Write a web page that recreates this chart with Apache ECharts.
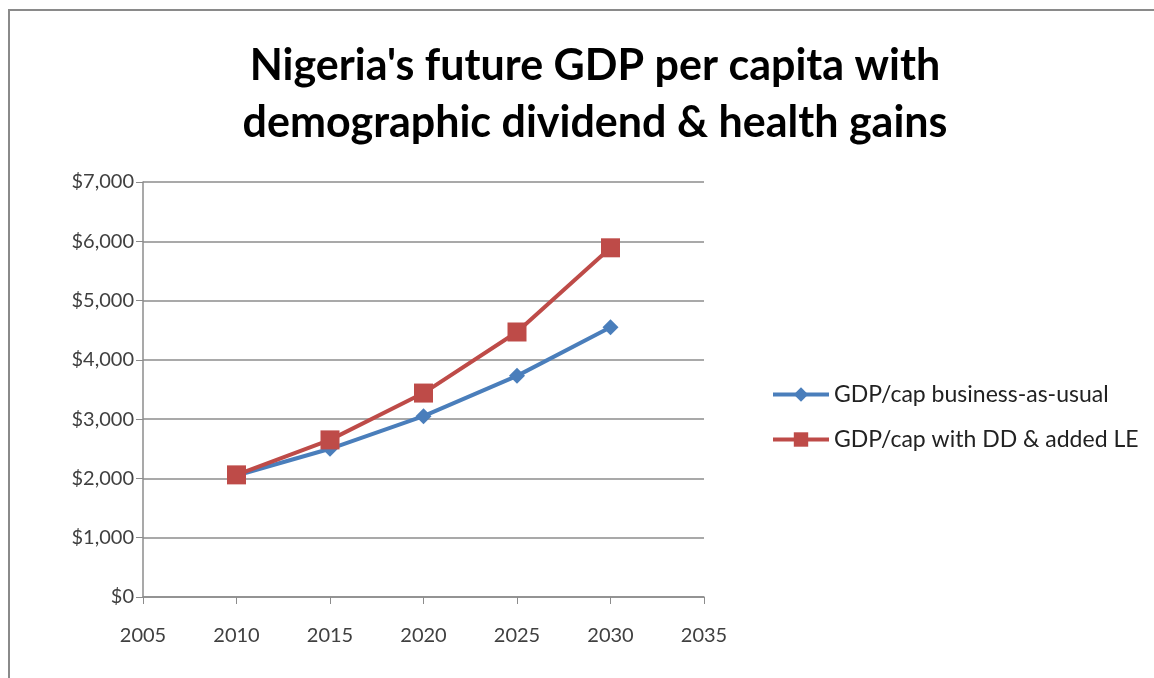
<!DOCTYPE html>
<html>
<head>
<meta charset="utf-8">
<script src="https://cdn.jsdelivr.net/npm/echarts@6/dist/echarts.min.js"></script>
<style>
html,body{margin:0;padding:0;background:#fff;}
#chart{width:1154px;height:678px;}
</style>
</head>
<body>
<div id="chart"></div>
<script>
const titleText = "Nigeria's future GDP per capita with\ndemographic dividend & health gains";
const years = [2010, 2015, 2020, 2025, 2030];
const seriesNames = ["GDP/cap business-as-usual", "GDP/cap with DD & added LE"];
const businessAsUsual = [2050, 2500, 3050, 3730, 4550];
const withDividend = [2060, 2650, 3440, 4470, 5890];

const chart = echarts.init(document.getElementById('chart'));
const font = 'Lato, "Open Sans", sans-serif';
chart.setOption({
  backgroundColor: '#fff',
  animation: false,
  title: {
    text: titleText,
    left: 590, top: 33, textAlign: 'center',
    textStyle: { fontFamily: font, fontWeight: 'bold', fontSize: 43, lineHeight: 57, color: '#000' }
  },
  graphic: [{
    type: 'polyline',
    shape: { points: [[9, 678], [9, 10], [1154, 10]] },
    style: { stroke: '#8a8a8a', lineWidth: 2, fill: null }
  }],
  legend: {
    orient: 'vertical', left: 766, top: 378,
    itemGap: 22, itemWidth: 56, itemHeight: 18,
    lineStyle: { width: 4 },
    textStyle: { fontFamily: font, fontSize: 23, color: '#222' },
    data: seriesNames
  },
  grid: { left: 143, right: 450, top: 182, bottom: 81 },
  xAxis: {
    type: 'value', min: 2005, max: 2035, interval: 5,
    axisLine: { show: true, lineStyle: { color: '#8c8c8c', width: 1.5 } },
    axisTick: { show: true, length: 7, lineStyle: { color: '#8c8c8c' } },
    splitLine: { show: false },
    axisLabel: { color: '#404040', fontFamily: font, fontSize: 20, margin: 29, formatter: v => String(v) }
  },
  yAxis: {
    type: 'value', min: 0, max: 7000, interval: 1000,
    axisLine: { show: true, lineStyle: { color: '#8c8c8c', width: 1.5 } },
    axisTick: { show: true, length: 7, lineStyle: { color: '#8c8c8c' } },
    splitLine: { show: true, lineStyle: { color: '#8c8c8c', width: 1.5 } },
    axisLabel: {
      color: '#404040', fontFamily: font, fontSize: 20, margin: 9,
      formatter: v => '$' + v.toLocaleString('en-US')
    }
  },
  series: [
    {
      name: seriesNames[0], type: 'line',
      data: years.map((y, i) => [y, businessAsUsual[i]]),
      symbol: 'diamond', symbolSize: 16,
      lineStyle: { color: '#4a7ebb', width: 4 },
      itemStyle: { color: '#4a7ebb' }
    },
    {
      name: seriesNames[1], type: 'line',
      data: years.map((y, i) => [y, withDividend[i]]),
      symbol: 'rect', symbolSize: 19,
      lineStyle: { color: '#be4b48', width: 4 },
      itemStyle: { color: '#be4b48' }
    }
  ]
});
</script>
</body>
</html>
